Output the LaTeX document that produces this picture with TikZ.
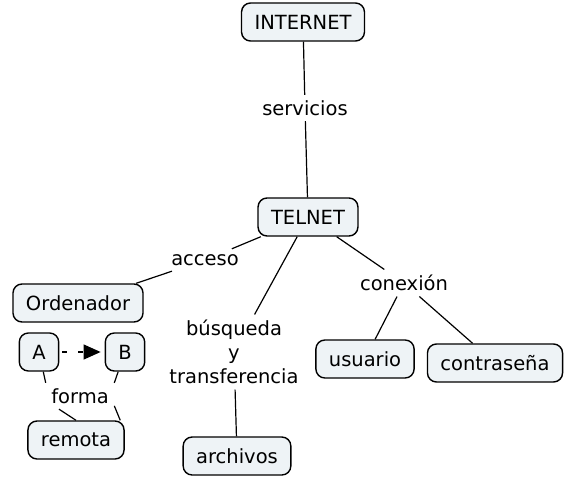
\documentclass[tikz,border=0pt]{standalone}
\usepackage{fontspec}
\setmainfont{DejaVu Sans}
\usetikzlibrary{arrows.meta}
\definecolor{conceptfill}{RGB}{238,243,246}

\begin{document}
\begin{tikzpicture}[
    x=1pt, y=1pt,
    line width=1.2pt,
    every node/.style={font=\fontsize{19.5}{24}\selectfont},
    concept/.style={draw, line width=1.4pt, rounded corners=9pt, fill=conceptfill,
        inner xsep=13pt, inner ysep=0pt, minimum height=38pt},
    phrase/.style={inner sep=5pt, align=center}
]
\useasboundingbox (0,0) rectangle (567,480);

% Top
\node[concept] (internet) at (303,458) {INTERNET};
\node[phrase] (servicios) at (305,372) {servicios};
\node[concept] (telnet) at (308,263) {TELNET};

% Left branch
\node[phrase] (acceso) at (205,220) {acceso};
\node[concept] (ordenador) at (78,177) {Ordenador};
\node[concept] (a) at (39,128) {A};
\node[concept] (b) at (125,128) {B};
\node[phrase] (forma) at (80,84) {forma};
\node[concept] (remota) at (76,40) {remota};

% Middle branch
\node[phrase] (busqueda) at (234,128) {búsqueda\\y\\transferencia};
\node[concept] (archivos) at (237,24) {archivos};

% Right branch
\node[phrase] (conexion) at (404,197) {conexión};
\node[concept] (usuario) at (365,121) {usuario};
\node[concept] (contrasena) at (495,117) {contraseña};

% Edges
\draw (internet)--(servicios);
\draw (servicios)--(telnet);

\draw (telnet)--(acceso);
\draw (acceso)--(ordenador);
\draw[dash pattern=on 5pt off 11pt, -{Triangle[length=17pt,width=15pt]},
    shorten <=3pt, shorten >=4pt] (a)--(b);
\draw (a)--(forma.north west);
\draw (b)--(forma.north east);
\draw (forma.-148)--(remota.north);
\draw (forma.-16)--(remota.24);

\draw (telnet)--(busqueda);
\draw (busqueda)--(archivos);

\draw (telnet)--(conexion);
\draw (conexion)--(usuario);
\draw (conexion)--(contrasena);

\end{tikzpicture}
\end{document}
